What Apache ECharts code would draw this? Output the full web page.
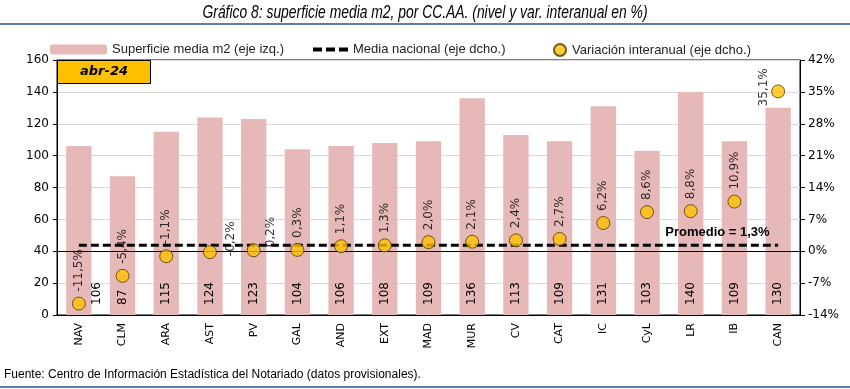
<!DOCTYPE html>
<html><head><meta charset="utf-8">
<script src="https://cdn.jsdelivr.net/npm/echarts@6/dist/echarts.min.js"></script>
<style>html,body{margin:0;padding:0;background:#fff}#c{width:850px;height:389px}</style>
</head><body><div id="c"></div>
<script>
const categories = ['NAV','CLM','ARA','AST','PV','GAL','AND','EXT','MAD','MUR','CV','CAT','IC','CyL','LR','IB','CAN'];
const superficie = [106,87,115,124,123,104,106,108,109,136,113,109,131,103,140,109,130];
const variacion = [-11.5,-5.4,-1.1,-0.2,0.2,0.3,1.1,1.3,2.0,2.1,2.4,2.7,6.2,8.6,8.8,10.9,35.1];
const mediaNacional = 1.3;
const leftTicks = {min:0, max:160, interval:20};
const rightTicks = {min:-14, max:42, interval:7};

const fmt = v => v.toFixed(1).replace('.', ',') + '%';
const tickFont = 'DejaVu Sans';
const sans = '"Liberation Sans", Arial, sans-serif';

// label nudges in screen px [dx, dy]; converted to the rotated label frame
const rot = (dx, dy) => [-dy, dx];
const varLabelOffsets = {3:rot(21,16), 4:rot(17,9), 16:rot(-14,27)};

const dashIcon = 'path://M0,0L9,0L9,4L0,4Z M13,0L22,0L22,4L13,4Z M26,0L35,0L35,4L26,4Z';

const chart = echarts.init(document.getElementById('c'), null, {renderer:'canvas'});
chart.setOption({
  animation:false,
  legend:[
    {data:['Superficie media m2 (eje izq.)'], left:45, top:38, itemWidth:57, itemHeight:10, itemGap:6,
      textStyle:{fontFamily:sans, fontSize:13, color:'#222'}},
    {data:[{name:'Media nacional (eje dcho.)', icon:dashIcon}], left:308, top:38, itemWidth:35, itemHeight:4,
      textStyle:{fontFamily:sans, fontSize:13, color:'#222'}},
    {data:['Variación interanual (eje dcho.)'], left:548, top:38, itemWidth:14, itemHeight:12,
      textStyle:{fontFamily:sans, fontSize:13, color:'#222'}}
  ],
  grid:{left:57, right:50, top:60, bottom:74, show:true, borderColor:'#000', borderWidth:1},
  xAxis:{type:'category', data:categories, boundaryGap:true,
    axisLine:{lineStyle:{color:'#000'}}, axisTick:{length:5, lineStyle:{color:'#000'}},
    axisLabel:{rotate:90, color:'#000', fontFamily:tickFont, fontSize:11, margin:8}},
  yAxis:[
    {type:'value', min:leftTicks.min, max:leftTicks.max, interval:leftTicks.interval,
      axisLine:{show:true, lineStyle:{color:'#000'}}, axisTick:{show:true, length:4, lineStyle:{color:'#000'}},
      axisLabel:{color:'#000', fontFamily:tickFont, fontSize:12, margin:8},
      splitLine:{show:true, lineStyle:{color:'#D9D9D9', width:1}}},
    {type:'value', min:rightTicks.min, max:rightTicks.max, interval:rightTicks.interval, position:'right',
      axisLine:{show:true, lineStyle:{color:'#000'}}, axisTick:{show:true, length:5, lineStyle:{color:'#000'}},
      axisLabel:{color:'#000', fontFamily:tickFont, fontSize:12, margin:8, formatter:'{value}%'},
      splitLine:{show:false}}
  ],
  series:[
    {name:'Superficie media m2 (eje izq.)', type:'bar', yAxisIndex:0, barWidth:'58%',
      itemStyle:{color:'#E6B9B8'},
      data: superficie.map((v,i)=>({value:v, label: i===0 ? {offset:rot(18,0)} : {}})),
      label:{show:true, position:'insideBottom', distance:10, rotate:90, align:'left', verticalAlign:'middle',
        color:'#000', fontFamily:tickFont, fontSize:12}},
    {name:'Media nacional (eje dcho.)', type:'line', yAxisIndex:1, symbol:'circle', symbolSize:0, showSymbol:true, z:4,
      lineStyle:{color:'#000', width:3, type:[8,4]}, itemStyle:{color:'#000'},
      data: categories.map((c,i)=>({value:mediaNacional,
        label: i===15 ? {show:true, position:'top', distance:6, offset:[-17,0], formatter:'Promedio = ' + fmt(mediaNacional),
          fontFamily:sans, fontWeight:'bold', fontSize:13, color:'#000'} : {show:false}}))},
    {name:'Variación interanual (eje dcho.)', type:'scatter', yAxisIndex:1, symbol:'circle', symbolSize:13, z:5,
      itemStyle:{color:'#FFC000', borderColor:'#4a3a00', borderWidth:1},
      data: variacion.map((v,i)=>({value:v, label: varLabelOffsets[i] ? {offset:varLabelOffsets[i]} : {}})),
      label:{show:true, position:'top', distance:5, rotate:90, align:'left', verticalAlign:'middle',
        color:'#000', fontFamily:tickFont, fontSize:12, formatter:p=>fmt(p.value)},
      markLine:{silent:true, symbol:'none', label:{show:false}, lineStyle:{color:'#000', width:1, type:'solid'},
        data:[{yAxis:0}]}}
  ],
  graphic:[
    {type:'text', x:425, y:13, scaleX:0.73, style:{text:'Gráfico 8: superficie media m2, por CC.AA. (nivel y var. interanual en %)',
      font:'italic 19px ' + sans, fill:'#000', align:'center', verticalAlign:'middle'}},
    {type:'line', shape:{x1:0, y1:24, x2:850, y2:24}, style:{stroke:'#5B7FA8', lineWidth:2}},
    {type:'line', shape:{x1:0, y1:387, x2:850, y2:387}, style:{stroke:'#5B7FA8', lineWidth:2}},
    {type:'rect', shape:{x:57.5, y:60.5, width:93, height:23}, style:{fill:'#FFC000', stroke:'#000', lineWidth:1}, z:10},
    {type:'text', x:104, y:72, style:{text:'abr-24', font:'italic bold 13px "DejaVu Sans"', fill:'#000', align:'center', verticalAlign:'middle'}, z:11},
    {type:'text', left:4, top:369, style:{text:'Fuente: Centro de Información Estadística del Notariado (datos provisionales).', font:'12px ' + sans, fill:'#000'}}
  ]
});
</script></body></html>
